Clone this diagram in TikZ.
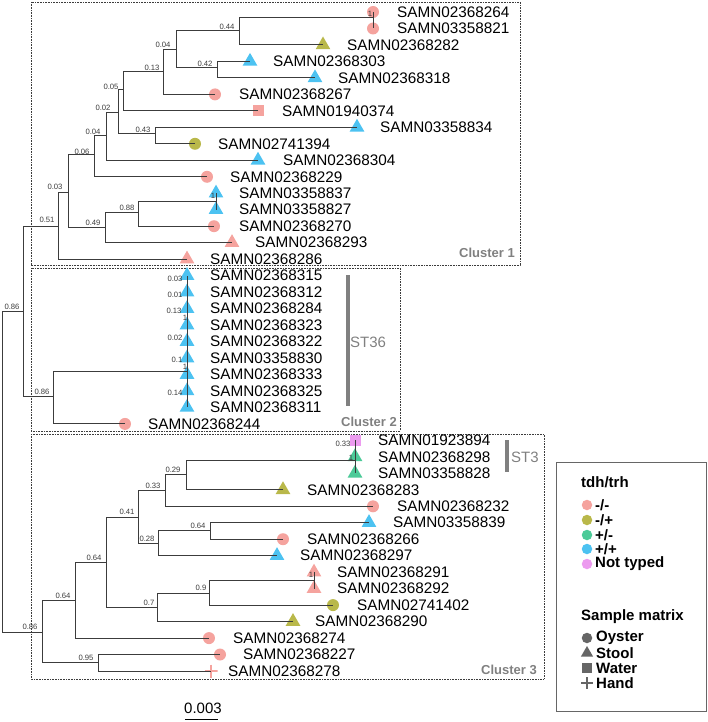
\documentclass[tikz,border=0pt]{standalone}
\usepackage{fontspec}
\setmainfont{Liberation Sans}
\usetikzlibrary{shapes.geometric}
\definecolor{cA}{HTML}{F5A39E}
\definecolor{cB}{HTML}{B9B84A}
\definecolor{cC}{HTML}{4CCA98}
\definecolor{cD}{HTML}{4CC2F1}
\definecolor{cE}{HTML}{EC9BEF}
\definecolor{brc}{HTML}{3C3C3C}
\definecolor{gry}{HTML}{808080}
\definecolor{lgg}{HTML}{666666}
\tikzset{
  circ/.style={circle, fill=#1, minimum size=12pt, inner sep=0pt},
  tri/.style={regular polygon, regular polygon sides=3, fill=#1, minimum size=17pt, inner sep=0pt},
  sq/.style={rectangle, fill=#1, minimum size=11pt, inner sep=0pt},
  plusm/.style={rectangle, minimum size=13pt, inner sep=0pt, path picture={
     \draw[#1, line width=2.5pt] (path picture bounding box.north) -- (path picture bounding box.south)
       (path picture bounding box.west) -- (path picture bounding box.east);}},
  lab/.style={anchor=west, inner sep=0pt, font=\fontsize{15.3}{16}\selectfont},
  bs/.style={inner sep=0pt, text=brc, font=\fontsize{7.7}{8}\selectfont},
  br/.style={draw=brc, line width=1pt},
  boxd/.style={draw=brc, line width=0.8pt, dash pattern=on 0.8pt off 0.8pt},
  clab/.style={anchor=east, inner sep=0pt, text=gry, font=\fontsize{13}{14}\selectfont\bfseries},
  stbar/.style={draw=gry, line width=4pt},
  stlab/.style={anchor=west, inner sep=0pt, text=gry, font=\fontsize{15}{16}\selectfont},
  leg/.style={anchor=west, inner sep=0pt, font=\fontsize{15}{16}\selectfont\bfseries},
  lcirc/.style={circle, fill=#1, minimum size=10.5pt, inner sep=0pt}
}
\begin{document}
\begin{tikzpicture}[x=1pt, y=-1pt]
\useasboundingbox (0,0) rectangle (708,722);
% cluster boxes
\draw[boxd] (31,2) rectangle (520,265);
\draw[boxd] (31,268) rectangle (400,431);
\draw[boxd] (31,434) rectangle (544,679);
\node[clab] (cl1) at (515,253) {Cluster 1};
\node[clab] (cl2) at (397,422) {Cluster 2};
\node[clab] (cl3) at (537,670) {Cluster 3};
% ST bars
\draw[stbar] (348,275) -- (348,406);
\node[stlab] (st36) at (350,342) {ST36};
\draw[stbar] (507,440) -- (507,472);
\node[stlab] (st3) at (511,457) {ST3};
% markers
\node[circ=cA] (m0) at (373,12.0) {};
\node[circ=cA] (m1) at (373,28.5) {};
\node[tri=cB] (m2) at (323,45.0) {};
\node[tri=cD] (m3) at (250,61.4) {};
\node[tri=cD] (m4) at (315,77.9) {};
\node[circ=cA] (m5) at (215,94.4) {};
\node[sq=cA] (m6) at (258,110.9) {};
\node[tri=cD] (m7) at (357,127.3) {};
\node[circ=cB] (m8) at (195,143.8) {};
\node[tri=cD] (m9) at (258,160.3) {};
\node[circ=cA] (m10) at (207,176.8) {};
\node[tri=cD] (m11) at (216,193.2) {};
\node[tri=cD] (m12) at (216,209.7) {};
\node[circ=cA] (m13) at (214,226.2) {};
\node[tri=cA] (m14) at (232,242.7) {};
\node[tri=cA] (m15) at (187,259.1) {};
\node[tri=cD] (m16) at (187,275.6) {};
\node[tri=cD] (m17) at (187,292.1) {};
\node[tri=cD] (m18) at (187,308.6) {};
\node[tri=cD] (m19) at (187,325.0) {};
\node[tri=cD] (m20) at (187,341.5) {};
\node[tri=cD] (m21) at (187,358.0) {};
\node[tri=cD] (m22) at (187,374.5) {};
\node[tri=cD] (m23) at (187,390.9) {};
\node[tri=cD] (m24) at (187,407.4) {};
\node[circ=cA] (m25) at (125,423.9) {};
\node[sq=cE] (m26) at (355,440.4) {};
\node[tri=cC] (m27) at (355,456.8) {};
\node[tri=cC] (m28) at (355,473.3) {};
\node[tri=cB] (m29) at (283,489.8) {};
\node[circ=cA] (m30) at (373,506.3) {};
\node[tri=cD] (m31) at (369,522.7) {};
\node[circ=cA] (m32) at (283,539.2) {};
\node[tri=cD] (m33) at (277,555.7) {};
\node[tri=cA] (m34) at (314,572.2) {};
\node[tri=cA] (m35) at (314,588.6) {};
\node[circ=cB] (m36) at (333,605.1) {};
\node[tri=cB] (m37) at (293,621.6) {};
\node[circ=cA] (m38) at (209,638.1) {};
\node[circ=cA] (m39) at (220,654.5) {};
\node[plusm=cA] (m40) at (211,671.0) {};
% leaf labels
\node[lab] (t0) at (397,12.0) {SAMN02368264};
\node[lab] (t1) at (397,28.5) {SAMN03358821};
\node[lab] (t2) at (347,45.0) {SAMN02368282};
\node[lab] (t3) at (273,61.4) {SAMN02368303};
\node[lab] (t4) at (338,77.9) {SAMN02368318};
\node[lab] (t5) at (239,94.4) {SAMN02368267};
\node[lab] (t6) at (282,110.9) {SAMN01940374};
\node[lab] (t7) at (380,127.3) {SAMN03358834};
\node[lab] (t8) at (218,143.8) {SAMN02741394};
\node[lab] (t9) at (283,160.3) {SAMN02368304};
\node[lab] (t10) at (230,176.8) {SAMN02368229};
\node[lab] (t11) at (239,193.2) {SAMN03358837};
\node[lab] (t12) at (239,209.7) {SAMN03358827};
\node[lab] (t13) at (239,226.2) {SAMN02368270};
\node[lab] (t14) at (255,242.7) {SAMN02368293};
\node[lab] (t15) at (210,259.1) {SAMN02368286};
\node[lab] (t16) at (210,275.6) {SAMN02368315};
\node[lab] (t17) at (210,292.1) {SAMN02368312};
\node[lab] (t18) at (210,308.6) {SAMN02368284};
\node[lab] (t19) at (210,325.0) {SAMN02368323};
\node[lab] (t20) at (210,341.5) {SAMN02368322};
\node[lab] (t21) at (210,358.0) {SAMN03358830};
\node[lab] (t22) at (210,374.5) {SAMN02368333};
\node[lab] (t23) at (210,390.9) {SAMN02368325};
\node[lab] (t24) at (210,407.4) {SAMN02368311};
\node[lab] (t25) at (148,423.9) {SAMN02368244};
\node[lab] (t26) at (378,440.4) {SAMN01923894};
\node[lab] (t27) at (378,456.8) {SAMN02368298};
\node[lab] (t28) at (378,473.3) {SAMN03358828};
\node[lab] (t29) at (307,489.8) {SAMN02368283};
\node[lab] (t30) at (397,506.3) {SAMN02368232};
\node[lab] (t31) at (393,522.7) {SAMN03358839};
\node[lab] (t32) at (307,539.2) {SAMN02368266};
\node[lab] (t33) at (300,555.7) {SAMN02368297};
\node[lab] (t34) at (337,572.2) {SAMN02368291};
\node[lab] (t35) at (337,588.6) {SAMN02368292};
\node[lab] (t36) at (357,605.1) {SAMN02741402};
\node[lab] (t37) at (315,621.6) {SAMN02368290};
\node[lab] (t38) at (233,638.1) {SAMN02368274};
\node[lab] (t39) at (243,654.5) {SAMN02368227};
\node[lab] (t40) at (228,671.0) {SAMN02368278};
% internal coordinates
\coordinate (p264) at (373,18);
\coordinate (J) at (239,31);
\coordinate (K) at (217,68);
\coordinate (I) at (176,50);
\coordinate (H) at (163,72);
\coordinate (G) at (123,90);
\coordinate (L) at (155,134);
\coordinate (F) at (118,113);
\coordinate (E) at (106,136);
\coordinate (D) at (94,155);
\coordinate (p837) at (216,201.5);
\coordinate (N) at (138,212);
\coordinate (M) at (105,227);
\coordinate (C) at (68,192);
\coordinate (B) at (58,226);
\coordinate (g36) at (187,371);
\coordinate (O) at (53,396);
\coordinate (A) at (23,311);
\coordinate (R0) at (2,471);
\coordinate (g3) at (355,460);
\coordinate (V) at (186,474);
\coordinate (U) at (165,490);
\coordinate (X) at (210,530);
\coordinate (W) at (158,543);
\coordinate (T) at (138,517);
\coordinate (p291) at (314,580);
\coordinate (Z) at (209,593);
\coordinate (Y) at (157,607);
\coordinate (S) at (106,562);
\coordinate (R) at (75,600);
\coordinate (Q) at (98,662);
\coordinate (P) at (42,632);
% branches
\draw[br] (J) |- (p264);
\draw[br] (p264) |- (m0.center);
\draw[br] (p264) |- (m1.center);
\draw[br] (J) |- (m2.center);
\draw[br] (K) |- (m3.center);
\draw[br] (K) |- (m4.center);
\draw[br] (I) |- (J);
\draw[br] (I) |- (K);
\draw[br] (H) |- (I);
\draw[br] (H) |- (m5.center);
\draw[br] (G) |- (H);
\draw[br] (G) |- (m6.center);
\draw[br] (L) |- (m7.center);
\draw[br] (L) |- (m8.center);
\draw[br] (F) |- (G);
\draw[br] (F) |- (L);
\draw[br] (E) |- (F);
\draw[br] (E) |- (m9.center);
\draw[br] (D) |- (E);
\draw[br] (D) |- (m10.center);
\draw[br] (p837) |- (m11.center);
\draw[br] (p837) |- (m12.center);
\draw[br] (N) |- (p837);
\draw[br] (N) |- (m13.center);
\draw[br] (M) |- (N);
\draw[br] (M) |- (m14.center);
\draw[br] (C) |- (D);
\draw[br] (C) |- (M);
\draw[br] (B) |- (C);
\draw[br] (B) |- (m15.center);
\foreach \k in {16,...,24} {\draw[br] (g36) |- (m\k.center);}
\draw[br] (O) |- (g36);
\draw[br] (O) |- (m25.center);
\draw[br] (A) |- (B);
\draw[br] (A) |- (O);
\draw[br] (R0) |- (A);
\draw[br] (R0) |- (P);
\draw[br] (g3) |- (m26.center);
\draw[br] (g3) |- (m27.center);
\draw[br] (g3) |- (m28.center);
\draw[br] (V) |- (g3);
\draw[br] (V) |- (m29.center);
\draw[br] (U) |- (V);
\draw[br] (U) |- (m30.center);
\draw[br] (X) |- (m31.center);
\draw[br] (X) |- (m32.center);
\draw[br] (W) |- (X);
\draw[br] (W) |- (m33.center);
\draw[br] (T) |- (U);
\draw[br] (T) |- (W);
\draw[br] (p291) |- (m34.center);
\draw[br] (p291) |- (m35.center);
\draw[br] (Z) |- (p291);
\draw[br] (Z) |- (m36.center);
\draw[br] (Y) |- (Z);
\draw[br] (Y) |- (m37.center);
\draw[br] (S) |- (T);
\draw[br] (S) |- (Y);
\draw[br] (R) |- (S);
\draw[br] (R) |- (m38.center);
\draw[br] (Q) |- (m39.center);
\draw[br] (Q) |- (m40.center);
\draw[br] (P) |- (R);
\draw[br] (P) |- (Q);
% bootstrap labels
\node[bs] (b1) at (227,27) {0.44};
\node[bs] (b2) at (205,64) {0.42};
\node[bs] (b3) at (163,45) {0.04};
\node[bs] (b4) at (152,68) {0.13};
\node[bs] (b5) at (111,87) {0.05};
\node[bs] (b6) at (103,108) {0.02};
\node[bs] (b7) at (143,130) {0.43};
\node[bs] (b8) at (93,132) {0.04};
\node[bs] (b9) at (82,152) {0.06};
\node[bs] (b10) at (55,187) {0.03};
\node[bs] (b11) at (127,208) {0.88};
\node[bs] (b12) at (93,223) {0.49};
\node[bs] (b13) at (47,220) {0.51};
\node[bs] (b14) at (12,307) {0.86};
\node[bs] (b15) at (42,392) {0.86};
\node[bs] (b16) at (30,627) {0.86};
\node[bs] (b17) at (63,596) {0.64};
\node[bs] (b18) at (86,658) {0.95};
\node[bs] (b19) at (94,558) {0.64};
\node[bs] (b20) at (127,512) {0.41};
\node[bs] (b21) at (149,603) {0.7};
\node[bs] (b22) at (153,486) {0.33};
\node[bs] (b23) at (147,539) {0.28};
\node[bs] (b24) at (173,470) {0.29};
\node[bs] (b25) at (198,526) {0.64};
\node[bs] (b26) at (201,588) {0.9};
\node[bs] (b27) at (343,444) {0.33};
\node[bs] (b28) at (351,458) {1};
\node[bs] (b29) at (370,14) {1};
\node[bs] (b30) at (213,196) {1};
\node[bs] (b31) at (311,575) {1};
\node[bs] (b32) at (175,279) {0.03};
\node[bs] (b33) at (175,295) {0.01};
\node[bs] (b34) at (174,311) {0.13};
\node[bs] (b35) at (185,318) {1};
\node[bs] (b36) at (175,338) {0.02};
\node[bs] (b37) at (177,360) {0.1};
\node[bs] (b38) at (185,367) {1};
\node[bs] (b39) at (175,393) {0.14};
% legend
\draw[draw=lgg, line width=0.8pt] (556,462) rectangle (706,711);
\node[leg] (lh1) at (581,482) {tdh/trh};
\node[lcirc=cA] (lc1) at (587,505) {};
\node[lcirc=cB] (lc2) at (587,520) {};
\node[lcirc=cC] (lc3) at (587,535) {};
\node[lcirc=cD] (lc4) at (587,549) {};
\node[lcirc=cE] (lc5) at (587,564) {};
\node[leg] (lt1) at (595,505) {-/-};
\node[leg] (lt2) at (595,520) {-/+};
\node[leg] (lt3) at (595,535) {+/-};
\node[leg] (lt4) at (595,549) {+/+};
\node[leg] (lt5) at (595,564) {Not typed};
\node[leg] (lh2) at (581,617) {Sample matrix};
\node[lcirc=lgg] (ls1) at (587,638) {};
\node[regular polygon, regular polygon sides=3, fill=lgg, minimum size=14pt, inner sep=0pt] (ls2) at (587,653) {};
\node[sq=lgg, minimum size=10pt] (ls3) at (587,668) {};
\node[plusm=lgg, minimum size=12pt] (ls4) at (587,683) {};
\node[leg] (lm1) at (596,638) {Oyster};
\node[leg] (lm2) at (596,653) {Stool};
\node[leg] (lm3) at (596,668) {Water};
\node[leg] (lm4) at (596,683) {Hand};
% scale bar
\node[inner sep=0pt, font=\fontsize{15}{16}\selectfont] (sc) at (203,708) {0.003};
\coordinate (sc1) at (185,719);
\coordinate (sc2) at (218,719);
\draw[draw=black, line width=1pt] (sc1) -- (sc2);
\end{tikzpicture}
\end{document}
